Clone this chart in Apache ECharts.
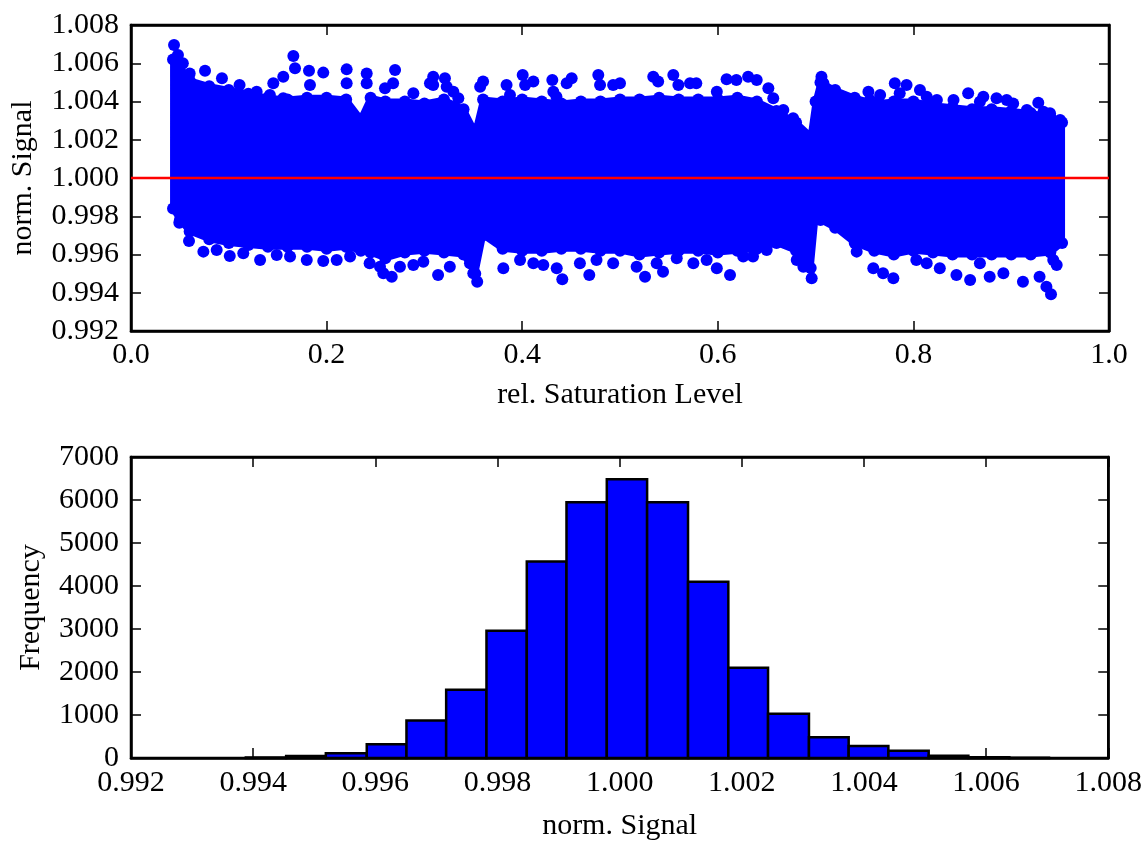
<!DOCTYPE html>
<html>
<head>
<meta charset="utf-8">
<script src="https://cdn.jsdelivr.net/npm/echarts@6/dist/echarts.min.js"></script>
<style>
html,body{margin:0;padding:0;background:#fff;}
#chart{width:1145px;height:842px;}
</style>
</head>
<body>
<div id="chart"></div>
<script>
// ---------- Top panel: scatter cloud ----------
// dense core of the cloud: x, upper edge, lower edge
const coreX = [0.043,0.05,0.06,0.08,0.10,0.12,0.14,0.16,0.18,0.20,0.22,0.235,0.245,0.26,0.28,0.30,0.32,0.34,0.352,0.36,0.38,0.40,0.42,0.44,0.46,0.48,0.50,0.52,0.54,0.56,0.58,0.60,0.62,0.64,0.66,0.68,0.695,0.700,0.705,0.72,0.74,0.76,0.78,0.80,0.82,0.84,0.86,0.88,0.90,0.92,0.94,0.952];
const coreUpper = [1.0062,1.0058,1.0051,1.0048,1.0046,1.0044,1.0042,1.0041,1.0042,1.0042,1.0041,1.0031,1.0042,1.0040,1.0040,1.0039,1.0041,1.0036,1.0024,1.0041,1.0040,1.0041,1.0040,1.0039,1.0040,1.0040,1.0041,1.0041,1.0042,1.0041,1.0041,1.0041,1.0042,1.0040,1.0035,1.0029,1.0022,1.0040,1.0050,1.0046,1.0042,1.0039,1.0040,1.0040,1.0038,1.0037,1.0036,1.0036,1.0035,1.0034,1.0032,1.0029];
const coreLower = [0.9984,0.9978,0.9972,0.9968,0.9966,0.9965,0.9964,0.9964,0.9964,0.9963,0.9964,0.9962,0.9961,0.9958,0.9961,0.9962,0.9961,0.9960,0.9950,0.9970,0.9963,0.9962,0.9962,0.9963,0.9963,0.9962,0.9962,0.9960,0.9961,0.9962,0.9962,0.9961,0.9962,0.9963,0.9966,0.9962,0.9953,0.9980,0.9978,0.9974,0.9966,0.9962,0.9960,0.9962,0.9961,0.9960,0.9960,0.9960,0.9960,0.9960,0.9961,0.9966];
// individual outer points above the core
const upperDotsX = [0.044,0.048,0.053,0.060,0.0757,0.093,0.111,0.1285,0.142,0.1557,0.166,0.1677,0.182,0.1966,0.2205,0.241,0.2597,0.270,0.2887,0.309,0.321,0.3347,0.360,0.384,0.4005,0.4114,0.4308,0.4506,0.4778,0.493,0.500,0.534,0.5545,0.578,0.609,0.631,0.6517,0.677,0.706,0.728,0.754,0.781,0.793,0.8067,0.824,0.856,0.8715,0.8954,0.9277,0.9397,0.950,
  0.1557,0.1455,0.2205,0.241,0.183,0.309,0.3228,0.3296,0.357,0.3875,0.403,0.4318,0.4455,0.435,0.4796,0.268,0.3057,
  0.539,0.5597,0.5716,0.599,0.619,0.6398,0.6567,0.667,0.708,0.7556,0.766,0.786,0.8136,0.841,0.868,0.885,0.902,0.916,0.933];
const upperDotsY = [1.00695,1.00643,1.0060,1.00547,1.00561,1.00521,1.00486,1.00451,1.00434,1.00417,1.00638,1.00574,1.00561,1.00551,1.00568,1.00547,1.00469,1.00565,1.00443,1.0053,1.00521,1.00417,1.00504,1.00486,1.00539,1.00504,1.00512,1.00521,1.00539,1.00486,1.00495,1.0053,1.00539,1.00495,1.00516,1.0053,1.00469,1.00312,1.0053,1.00425,1.00451,1.00495,1.00486,1.0046,1.00408,1.00443,1.00425,1.00408,1.00394,1.00338,1.00303,
  1.0053,1.00495,1.00495,1.00495,1.00486,1.00486,1.00477,1.00451,1.00477,1.00434,1.00486,1.00451,1.00495,1.00425,1.00486,1.00495,1.00495,
  1.00504,1.00486,1.00495,1.00451,1.00512,1.00512,1.00417,1.00356,1.00495,1.00408,1.00434,1.00443,1.00425,1.00408,1.00399,1.00417,1.0039,1.00356,1.00347];
// individual outer points below the core
const lowerDotsX = [0.0494,0.0593,0.0740,0.101,0.132,0.1626,0.1966,0.224,0.244,0.258,0.2666,0.2887,0.314,0.326,0.354,0.3807,0.4216,0.441,0.4686,0.493,0.5256,0.544,0.558,0.5886,0.6125,0.636,0.6807,0.696,0.742,0.759,0.7795,0.803,0.827,0.858,0.878,0.912,0.936,0.9407,0.9465,
  0.0876,0.1148,0.149,0.1797,0.2103,0.2546,0.275,0.2989,0.3466,0.350,0.3978,0.4114,0.4353,0.459,0.476,
  0.517,0.5375,0.575,0.599,0.626,0.650,0.6875,0.769,0.8136,0.844,0.868,0.892,0.929,0.943];
const lowerDotsY = [0.99766,0.99671,0.99615,0.99592,0.99571,0.99589,0.99566,0.99589,0.99554,0.99502,0.99484,0.99545,0.99493,0.99536,0.99458,0.99528,0.99545,0.9947,0.99493,0.99554,0.99484,0.9951,0.9958,0.99571,0.99493,0.99589,0.99571,0.99476,0.99615,0.99528,0.99476,0.99571,0.99528,0.99467,0.99484,0.99458,0.99432,0.99392,0.99545,
  0.99624,0.99606,0.99597,0.99571,0.99571,0.99536,0.99536,0.99562,0.99554,0.99502,0.99571,0.99554,0.99528,0.99554,0.99571,
  0.99536,0.99554,0.99554,0.99528,0.99589,0.99624,0.99536,0.99502,0.99554,0.99493,0.99554,0.99502,0.99484,0.99571];
const refLineX = [0.0, 1.0];
const refLineY = 1.000;
const topXTicks = [0.0, 1.0, 0.2];          // min, max, step
const topYTicks = [0.992, 1.008, 0.002];

// ---------- Bottom panel: histogram ----------
const histEdges = [0.99388,0.99454,0.99519,0.99586,0.99651,0.99716,0.99782,0.99848,0.99913,0.99979,1.00045,1.00112,1.00178,1.00243,1.00310,1.00375,1.00440,1.00506,1.00571,1.00638,1.00703];
const histCounts = [10,45,110,320,875,1590,2960,4570,5950,6480,5950,4100,2100,1030,480,280,170,50,15,5];
const botXTicks = [0.992, 1.008, 0.002];
const botYTicks = [0, 7000, 1000];

// ---------- chart ----------
const FONT = "'Liberation Serif','DejaVu Serif',serif";
const BLUE = '#0000ff';
const chart = echarts.init(document.getElementById('chart'), null, {renderer:'canvas'});

function zip(a, b){ return a.map((v,i)=>[v, b[i]]); }

function axisBase(extra){
  return Object.assign({
    axisLine:{show:true, onZero:false, lineStyle:{color:'#000', width:2.5}},
    axisTick:{show:true, inside:true, length:10, lineStyle:{color:'#000', width:1.5}},
    splitLine:{show:false},
    axisLabel:{show:false}
  }, extra);
}
const labelStyle = {show:true, color:'#000', fontFamily:FONT, fontSize:30};
const nameStyle = {color:'#000', fontFamily:FONT, fontSize:30};

const grids = [
  {left:131, top:25, width:978, height:306, show:true, borderColor:'#000', borderWidth:2.5, backgroundColor:'transparent'},
  {left:131, top:457, width:978, height:305, show:true, borderColor:'#000', borderWidth:2.5, backgroundColor:'transparent'}
];

const xAxes = [
  axisBase({type:'value', gridIndex:0, position:'bottom', min:topXTicks[0], max:topXTicks[1], interval:topXTicks[2],
    axisLabel:Object.assign({}, labelStyle, {margin:9, formatter:v=>v.toFixed(1)}),
    name:'rel. Saturation Level', nameLocation:'middle', nameGap:49, nameTextStyle:nameStyle}),
  axisBase({type:'value', gridIndex:0, position:'top', min:topXTicks[0], max:topXTicks[1], interval:topXTicks[2]}),
  axisBase({type:'value', gridIndex:1, position:'bottom', min:botXTicks[0], max:botXTicks[1], interval:botXTicks[2],
    axisLabel:Object.assign({}, labelStyle, {margin:10, formatter:v=>v.toFixed(3)}),
    name:'norm. Signal', nameLocation:'middle', nameGap:53, nameTextStyle:nameStyle}),
  axisBase({type:'value', gridIndex:1, position:'top', min:botXTicks[0], max:botXTicks[1], interval:botXTicks[2]})
];
const yAxes = [
  axisBase({type:'value', gridIndex:0, position:'left', min:topYTicks[0], max:topYTicks[1], interval:topYTicks[2],
    axisLabel:Object.assign({}, labelStyle, {margin:12, formatter:v=>v.toFixed(3)}),
    name:'norm. Signal', nameLocation:'middle', nameGap:93, nameTextStyle:nameStyle}),
  axisBase({type:'value', gridIndex:0, position:'right', min:topYTicks[0], max:topYTicks[1], interval:topYTicks[2]}),
  axisBase({type:'value', gridIndex:1, position:'left', min:botYTicks[0], max:botYTicks[1], interval:botYTicks[2],
    axisLabel:Object.assign({}, labelStyle, {margin:12, formatter:v=>String(v)}),
    name:'Frequency', nameLocation:'middle', nameGap:85, nameTextStyle:nameStyle}),
  axisBase({type:'value', gridIndex:1, position:'right', min:botYTicks[0], max:botYTicks[1], interval:botYTicks[2]})
];

const edgeDots = zip(coreX, coreUpper).concat(zip(coreX, coreLower));
const outerDots = zip(upperDotsX, upperDotsY).concat(zip(lowerDotsX, lowerDotsY));

const series = [
  {
    type:'custom', xAxisIndex:0, yAxisIndex:0, silent:true, z:2,
    data:[[coreX[0], coreUpper[0]]],
    renderItem:function(params, api){
      const pts = [];
      for (let i=0;i<coreX.length;i++) pts.push(api.coord([coreX[i], coreUpper[i]]));
      for (let i=coreX.length-1;i>=0;i--) pts.push(api.coord([coreX[i], coreLower[i]]));
      return {type:'polygon', shape:{points:pts}, style:{fill:BLUE, stroke:BLUE, lineWidth:6, lineJoin:'round'}};
    }
  },
  {
    type:'scatter', xAxisIndex:0, yAxisIndex:0, silent:true, z:3,
    symbol:'circle', symbolSize:12, itemStyle:{color:BLUE, opacity:1},
    data:edgeDots.concat(outerDots)
  },
  {
    type:'line', xAxisIndex:0, yAxisIndex:0, silent:true, z:5,
    symbol:'none', lineStyle:{color:'#ff0000', width:2.5},
    data:refLineX.map(x=>[x, refLineY])
  },
  {
    type:'custom', xAxisIndex:2, yAxisIndex:2, silent:true, z:3,
    data:histCounts.map((c,i)=>[histEdges[i], histEdges[i+1], c]),
    encode:{x:[0,1], y:2},
    renderItem:function(params, api){
      const p0 = api.coord([api.value(0), api.value(2)]);
      const p1 = api.coord([api.value(1), 0]);
      return {type:'rect',
        shape:{x:p0[0], y:p0[1], width:p1[0]-p0[0], height:p1[1]-p0[1]},
        style:{fill:BLUE, stroke:'#000', lineWidth:2.5}};
    }
  }
];

chart.setOption({
  animation:false,
  backgroundColor:'#fff',
  grid:grids,
  xAxis:xAxes,
  yAxis:yAxes,
  series:series
});
</script>
</body>
</html>
